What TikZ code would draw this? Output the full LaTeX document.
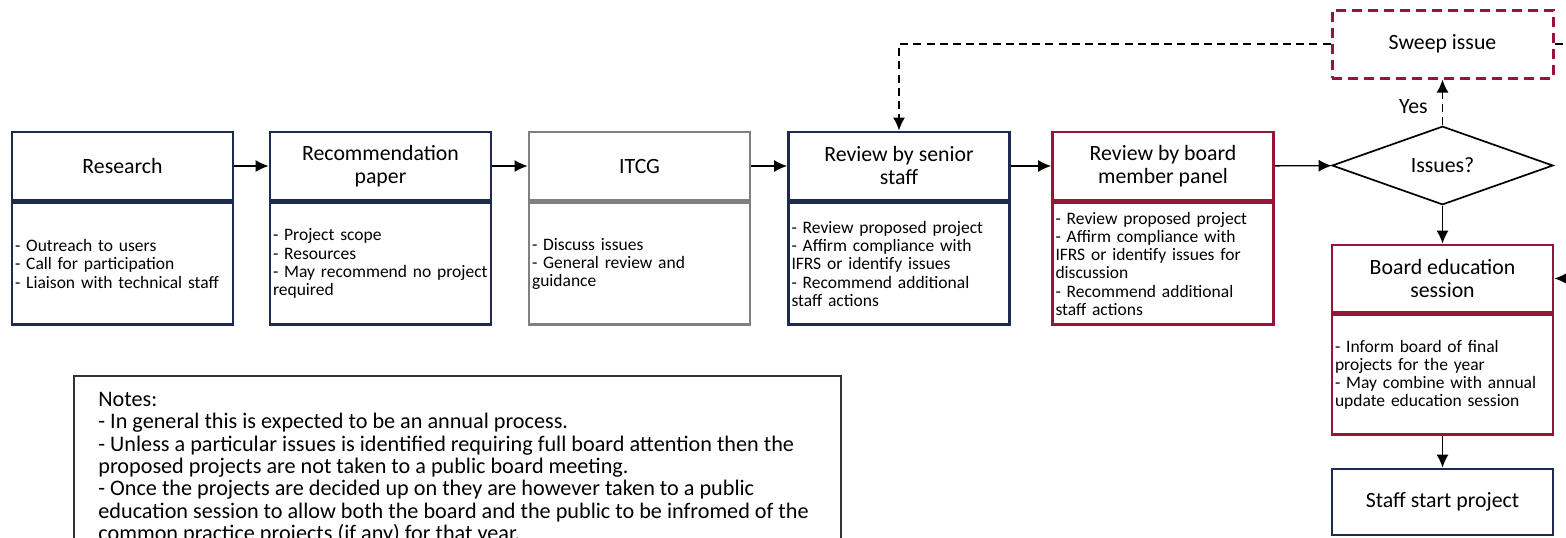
\documentclass[tikz,border=0pt]{standalone}
\usepackage{fontspec}
\setmainfont{Carlito}
\usetikzlibrary{shapes.geometric,arrows.meta}
\definecolor{navy}{RGB}{31,42,80}
\definecolor{wine}{RGB}{150,22,55}
\definecolor{midgray}{RGB}{128,128,128}

\begin{document}
\begin{tikzpicture}[x=0.5pt,y=-0.5pt,
    head/.style={draw=navy, line width=1.4pt, minimum width=110.5pt, minimum height=34pt, inner sep=1pt, align=center, font=\fontsize{10.9}{11.5}\selectfont},
    body/.style={draw=navy, line width=1.4pt, minimum width=110.5pt, minimum height=61pt, inner xsep=1.5pt, inner ysep=1pt, text width=107.5pt, align=left, font=\fontsize{8.75}{9.15}\selectfont},
    flow/.style={line width=0.7pt, -{Latex[length=6.5pt,width=6pt]}},
    dashflow/.style={line width=0.9pt, dash pattern=on 4pt off 2.6pt}]
    \useasboundingbox (0,0) rectangle (1566,537);
    \clip (0,0) rectangle (1566,537);
    \node[head] (research) at (122.5,166) {Research};
    \node[body, anchor=north] (researchbody) at (research.south) {- Outreach to users\\- Call for participation\\- Liaison with technical staff};
    \node[head] (recpaper) at (380.5,166) {Recommendation\\paper};
    \node[body, anchor=north] (recpaperbody) at (recpaper.south) {- Project scope\\- Resources\\\mbox{- May recommend no project}\\required};
    \node[head, draw=midgray] (itcg) at (639.5,166) {ITCG};
    \node[body, draw=midgray, anchor=north] (itcgbody) at (itcg.south) {- Discuss issues\\- General review and\\guidance};
    \node[head] (senior) at (899,166) {Review by senior\\staff};
    \node[body, anchor=north] (seniorbody) at (senior.south) {- Review proposed project\\- Affirm compliance with\\IFRS or identify issues\\- Recommend additional\\staff actions};
    \node[head, draw=wine] (panel) at (1163,166) {Review by board\\member panel};
    \node[body, draw=wine, anchor=north] (panelbody) at (panel.south) {- Review proposed project\\- Affirm compliance with\\IFRS or identify issues for\\discussion\\- Recommend additional\\staff actions};
    \node[diamond, draw, line width=0.85pt, minimum width=110.5pt, minimum height=33.5pt, inner sep=0pt, font=\fontsize{10.9}{11.5}\selectfont] (issues) at (1442.5,165.5) {Issues?};
    \node[head, draw=wine, line width=1.5pt, dash pattern=on 5pt off 3pt] (sweep) at (1442.5,44) {Sweep issue};
    \node[head, draw=wine, minimum height=33.5pt] (boarded) at (1442.5,278.5) {Board education\\session};
    \node[body, draw=wine, minimum height=60pt, anchor=north] (boardedbody) at (boarded.south) {- Inform board of final\\projects for the year\\- May combine with annual\\update education session};
    \node[head, minimum height=33pt] (staff) at (1442.5,502) {Staff start project};
    \node[draw=black!80, line width=1pt, minimum width=383.5pt, minimum height=100pt, anchor=north west] (notesbox) at (73,375) {};
    \node[anchor=north west, inner sep=0pt, align=left, font=\fontsize{11.1}{11.15}\selectfont] (notes) at (98,392) {Notes:\\- In general this is expected to be an annual process.\\- Unless a particular issues is identified requiring full board attention then the\\proposed projects are not taken to a public board meeting.\\- Once the projects are decided up on they are however taken to a public\\education session to allow both the board and the public to be infromed of the\\common practice projects (if any) for that year.};
    \coordinate (sweepout) at (1590,44);
    \coordinate (backin) at (1590,278.5);
    \draw[flow] (research) -- (recpaper);
    \draw[flow] (recpaper) -- (itcg);
    \draw[flow] (itcg) -- (senior);
    \draw[flow] (senior) -- (panel);
    \draw[flow] (panel) -- (issues);
    \draw[flow] (issues) -- (boarded);
    \draw[flow] (boardedbody) -- (staff);
    \draw[flow] (backin) -- (boarded);
    \draw[flow, dashflow] (issues) -- node[pos=0.4, left=6pt, inner sep=1pt, font=\fontsize{10.9}{11.5}\selectfont] (yes) {Yes} (sweep);
    \draw[flow, dashflow] (sweep.west) -| (senior.north);
    \draw[dashflow] (sweep) -- (sweepout);
\end{tikzpicture}
\end{document}
